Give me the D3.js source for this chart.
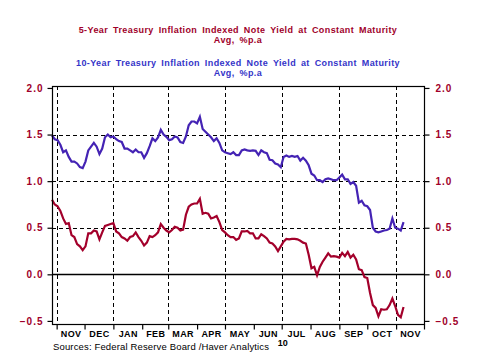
<!DOCTYPE html>
<html><head><meta charset="utf-8">
<script src="https://cdn.jsdelivr.net/npm/d3@7"></script>
<style>body{margin:0;background:#fff}svg{display:block}text{font-family:Arial,"Liberation Sans",sans-serif}</style>
</head><body><svg id="c" width="477" height="358"></svg>
<script>
const dates = [
"2009-10-27","2009-10-30","2009-11-02","2009-11-05","2009-11-08","2009-11-11","2009-11-14","2009-11-17","2009-11-20","2009-11-23",
"2009-11-26","2009-11-29","2009-12-02","2009-12-05","2009-12-08","2009-12-11","2009-12-14","2009-12-17","2009-12-20","2009-12-23",
"2009-12-26","2009-12-29","2010-01-01","2010-01-04","2010-01-07","2010-01-10","2010-01-13","2010-01-16","2010-01-19","2010-01-22",
"2010-01-25","2010-01-28","2010-01-31","2010-02-03","2010-02-06","2010-02-09","2010-02-12","2010-02-15","2010-02-18","2010-02-21",
"2010-02-24","2010-02-27","2010-03-02","2010-03-05","2010-03-08","2010-03-11","2010-03-14","2010-03-17","2010-03-20","2010-03-23",
"2010-03-26","2010-03-29","2010-04-01","2010-04-04","2010-04-07","2010-04-10","2010-04-13","2010-04-16","2010-04-19","2010-04-22",
"2010-04-25","2010-04-28","2010-05-01","2010-05-04","2010-05-07","2010-05-10","2010-05-13","2010-05-16","2010-05-19","2010-05-22",
"2010-05-25","2010-05-28","2010-05-31","2010-06-03","2010-06-06","2010-06-09","2010-06-12","2010-06-15","2010-06-18","2010-06-21",
"2010-06-24","2010-06-27","2010-06-30","2010-07-03","2010-07-06","2010-07-09","2010-07-12","2010-07-15","2010-07-18","2010-07-21",
"2010-07-24","2010-07-27","2010-07-30","2010-08-02","2010-08-05","2010-08-08","2010-08-11","2010-08-14","2010-08-17","2010-08-20",
"2010-08-23","2010-08-26","2010-08-29","2010-09-01","2010-09-04","2010-09-07","2010-09-10","2010-09-13","2010-09-16","2010-09-19",
"2010-09-22","2010-09-25","2010-09-28","2010-10-01","2010-10-04","2010-10-07","2010-10-10","2010-10-13","2010-10-16","2010-10-19",
"2010-10-22","2010-10-25","2010-10-28","2010-10-31","2010-11-03","2010-11-06","2010-11-09"];

const tips10 = [
1.49,1.45,1.44,1.39,1.31,1.33,1.26,1.21,1.21,1.19,
1.15,1.14,1.21,1.33,1.37,1.41,1.37,1.29,1.35,1.47,
1.50,1.47,1.48,1.45,1.43,1.42,1.35,1.35,1.33,1.31,
1.34,1.31,1.31,1.25,1.30,1.375,1.46,1.43,1.47,1.55,
1.50,1.475,1.44,1.45,1.48,1.47,1.42,1.41,1.48,1.60,
1.64,1.64,1.62,1.69,1.56,1.53,1.50,1.47,1.43,1.46,
1.41,1.33,1.31,1.30,1.29,1.31,1.28,1.28,1.33,1.34,
1.33,1.325,1.33,1.325,1.28,1.33,1.31,1.30,1.23,1.225,
1.19,1.18,1.15,1.26,1.275,1.26,1.27,1.26,1.27,1.22,
1.25,1.22,1.17,1.08,1.06,1.01,1.01,0.99,1.02,1.03,
1.02,1.01,1.01,1.04,1.07,1.02,1.02,0.97,0.99,0.95,
0.77,0.79,0.74,0.73,0.69,0.50,0.46,0.45,0.46,0.47,
0.475,0.49,0.60,0.50,0.49,0.47,0.56];

const tips5 = [
0.80,0.75,0.73,0.68,0.60,0.54,0.55,0.42,0.40,0.325,
0.30,0.26,0.30,0.44,0.44,0.47,0.46,0.375,0.45,0.52,
0.53,0.54,0.55,0.46,0.44,0.40,0.385,0.36,0.40,0.41,
0.45,0.40,0.36,0.31,0.34,0.41,0.40,0.42,0.45,0.54,
0.50,0.47,0.45,0.475,0.51,0.50,0.47,0.48,0.64,0.725,
0.75,0.76,0.76,0.81,0.65,0.66,0.65,0.60,0.61,0.625,
0.56,0.475,0.45,0.42,0.40,0.40,0.37,0.385,0.46,0.46,
0.465,0.44,0.44,0.385,0.385,0.43,0.41,0.385,0.34,0.33,
0.30,0.25,0.30,0.35,0.38,0.375,0.38,0.38,0.375,0.36,
0.34,0.33,0.21,0.065,0.08,-0.01,0.08,0.135,0.18,0.225,
0.19,0.195,0.19,0.18,0.23,0.195,0.24,0.18,0.21,0.16,
0.055,0.045,-0.03,-0.04,-0.20,-0.33,-0.36,-0.45,-0.375,-0.38,
-0.375,-0.33,-0.26,-0.34,-0.435,-0.46,-0.35];

const yTicks = [-0.5, 0.0, 0.5, 1.0, 1.5, 2.0];
const yGrid = [0.5, 1.0, 1.5];
const monthStarts = ["2009-11-01","2009-12-01","2010-01-01","2010-02-01","2010-03-01","2010-04-01","2010-05-01",
  "2010-06-01","2010-07-01","2010-08-01","2010-09-01","2010-10-01","2010-11-01","2010-12-01"];
const monthLabels = ["NOV","DEC","JAN","FEB","MAR","APR","MAY","JUN","JUL","AUG","SEP","OCT","NOV"];
const xGrid = ["2009-11-01","2010-01-01","2010-03-01","2010-05-01","2010-07-01","2010-09-01","2010-11-01"];
const yearLabel = ["10"];
const yearLabelDate = ["2010-07-01"];
const xDomain = ["2009-10-27","2010-12-01"];
const titles = ["5-Year Treasury Inflation Indexed Note Yield at Constant Maturity", "Avg, %p.a",
  "10-Year Treasury Inflation Indexed Note Yield at Constant Maturity", "Avg, %p.a"];
const sourceText = ["Sources:  Federal Reserve Board /Haver Analytics"];

const RED = "#a3002b", BLUE = "#4423b4", TITLE_BLUE = "#3434c8", LABEL_RED = "#a0002a";
const parse = d3.utcParse("%Y-%m-%d");
const svg = d3.select("#c");
const L = 52, R = 424, T = 86, B = 324;

const x = d3.scaleUtc().domain(xDomain.map(parse)).range([L, R]);
const y = d3.scaleLinear().domain([-0.533, 2.021]).range([B, T]);

// titles
const tY = [33, 43, 66, 76];
const tCol = [LABEL_RED, LABEL_RED, TITLE_BLUE, TITLE_BLUE];
titles.forEach((t, i) => {
  svg.append("text").attr("x", 238).attr("y", tY[i]).attr("text-anchor", "middle")
    .attr("font-size", 9).attr("font-weight", "bold").attr("fill", tCol[i])
    .style("letter-spacing", "0.4px").style("word-spacing", "2px").text(t);
});

// gridlines
svg.append("g").selectAll("line").data(yGrid).join("line")
  .attr("x1", L).attr("x2", R).attr("y1", d => Math.round(y(d)) + 0.5).attr("y2", d => Math.round(y(d)) + 0.5)
  .attr("stroke", "#000").attr("stroke-width", 1).attr("stroke-dasharray", "4,3");
svg.append("g").selectAll("line").data(xGrid).join("line")
  .attr("x1", d => Math.round(x(parse(d))) + 0.5).attr("x2", d => Math.round(x(parse(d))) + 0.5)
  .attr("y1", T).attr("y2", B)
  .attr("stroke", "#000").attr("stroke-width", 1).attr("stroke-dasharray", "4,3");
// zero line
svg.append("line").attr("x1", L).attr("x2", R).attr("y1", Math.round(y(0)) + 0.5).attr("y2", Math.round(y(0)) + 0.5)
  .attr("stroke", "#000").attr("stroke-width", 1.3);

// series
const line = d3.line().x((d, i) => x(parse(dates[i]))).y(d => y(d));
svg.append("path").datum(tips10).attr("d", line).attr("fill", "none")
  .attr("stroke", BLUE).attr("stroke-width", 2.2).attr("stroke-linejoin", "miter");
svg.append("path").datum(tips5).attr("d", line).attr("fill", "none")
  .attr("stroke", RED).attr("stroke-width", 2.2).attr("stroke-linejoin", "miter");

// frame
svg.append("rect").attr("x", L + 0.5).attr("y", T + 0.5).attr("width", R - L).attr("height", B - T)
  .attr("fill", "none").attr("stroke", "#000").attr("stroke-width", 1.2);

// y axes
function styleAxis(g) {
  g.select(".domain").remove();
  g.selectAll(".tick line").attr("stroke", "#000").attr("stroke-width", 1.2);
  g.selectAll(".tick text").attr("fill", LABEL_RED).attr("font-size", 10).attr("font-weight", "bold")
    .style("letter-spacing", "1px").attr("font-family", "Arial, Liberation Sans, sans-serif");
}
const fmt = d3.format(".1f");
svg.append("g").attr("transform", `translate(${L + 0.5},0)`)
  .call(d3.axisLeft(y).tickValues(yTicks).tickSize(5).tickPadding(4).tickFormat(fmt))
  .call(g => styleAxis(g));
svg.append("g").attr("transform", `translate(${R + 0.5},0)`)
  .call(d3.axisRight(y).tickValues(yTicks).tickSize(5).tickPadding(6).tickFormat(fmt))
  .call(g => styleAxis(g));

// x axis ticks
svg.append("g").attr("transform", `translate(0,${B + 0.5})`)
  .call(d3.axisBottom(x).tickValues(monthStarts.map(parse)).tickSize(5).tickFormat(""))
  .call(g => { g.select(".domain").remove(); g.selectAll(".tick line").attr("stroke", "#000").attr("stroke-width", 1.2); });

// month labels
svg.append("g").selectAll("text").data(monthLabels).join("text")
  .attr("x", (d, i) => (x(parse(monthStarts[i])) + x(parse(monthStarts[i + 1]))) / 2 + 0.5)
  .attr("y", 337).attr("text-anchor", "middle")
  .attr("font-size", 9).attr("font-weight", "bold").attr("fill", "#000").style("letter-spacing", "0.4px")
  .text(d => d);
svg.append("g").selectAll("text").data(yearLabel).join("text")
  .attr("x", (d, i) => x(parse(yearLabelDate[i])) + 1).attr("y", 345.5).attr("text-anchor", "middle")
  .attr("font-size", 9).attr("font-weight", "bold").attr("fill", "#000").text(d => d);

svg.append("text").attr("x", 53).attr("y", 350).attr("font-size", 9.5).attr("fill", "#000")
  .style("letter-spacing", "0.15px").text(sourceText[0]);
</script></body></html>
